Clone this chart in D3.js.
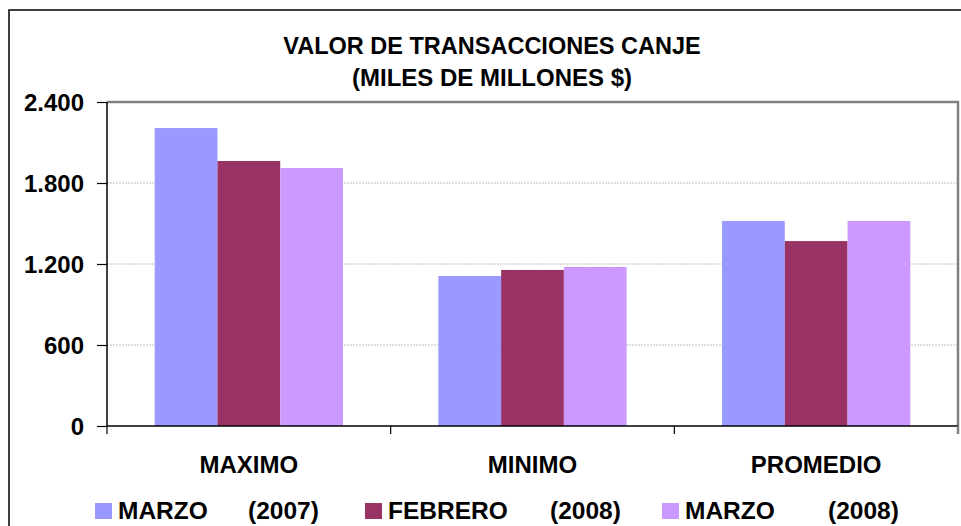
<!DOCTYPE html>
<html><head><meta charset="utf-8">
<script src="https://cdn.jsdelivr.net/npm/d3@7"></script>
<style>html,body{margin:0;padding:0;background:#fff;}svg{display:block;}text{font-family:"Liberation Sans",Arial,sans-serif;font-weight:bold;fill:#000;}</style>
</head><body>
<svg id="c" width="961" height="526"></svg>
<script>
const categories = ["MAXIMO", "MINIMO", "PROMEDIO"];
const seriesNames = ["MARZO", "FEBRERO", "MARZO"];
const seriesYears = ["(2007)", "(2008)", "(2008)"];
const marzo2007 = [2207, 1111, 1519];
const febrero2008 = [1963, 1156, 1370];
const marzo2008 = [1911, 1178, 1519];
const yTicks = [0, 600, 1200, 1800, 2400];
const titleLines = ["VALOR DE TRANSACCIONES CANJE", "(MILES DE MILLONES $)"];
const colors = ["#9999FF", "#993366", "#CC99FF"];

const seriesVals = [marzo2007, febrero2008, marzo2008];
const svg = d3.select("#c");
const L = 107, R = 958, T = 102, B = 426;

// outer frame
svg.append("rect").attr("x", 9).attr("y", 10).attr("width", 980).attr("height", 540)
  .attr("fill", "none").attr("stroke", "#000").attr("stroke-width", 1.5);

// title
svg.selectAll("text.title").data(titleLines).enter().append("text")
  .attr("class", "title").attr("x", 492).attr("y", (d, i) => 54 + i * 32)
  .attr("text-anchor", "middle").style("font-size", (d, i) => i === 0 ? "23.5px" : "24px").text(d => d);

const x0 = d3.scaleBand().domain(categories).range([L, R]).padding(0);
const x1 = d3.scaleBand().domain([0, 1, 2]).range([0, x0.bandwidth()]).paddingInner(0).paddingOuter(0.76);
const y = d3.scaleLinear().domain([0, 2400]).range([B, T]);

// gridlines
svg.append("g").selectAll("line").data(yTicks.filter(d => d > 0 && d < 2400)).enter().append("line")
  .attr("x1", L).attr("x2", R).attr("y1", d => y(d)).attr("y2", d => y(d))
  .attr("stroke", "#c0c0c0").attr("stroke-width", 1).attr("stroke-dasharray", "2,1");

// plot border top/right
svg.append("path").attr("d", `M${L},${T}H${R}V${B}`).attr("fill", "none")
  .attr("stroke", "#808080").attr("stroke-width", 2.5);

// bars
categories.forEach((c, ci) => {
  seriesVals.forEach((vals, si) => {
    svg.append("rect").attr("x", x0(c) + x1(si)).attr("width", x1.bandwidth())
      .attr("y", y(vals[ci])).attr("height", B - y(vals[ci])).attr("fill", colors[si]);
  });
});

// y axis
const yAxis = svg.append("g").attr("transform", `translate(${L},0)`)
  .call(d3.axisLeft(y).tickValues(yTicks).tickSize(10).tickPadding(13)
    .tickFormat(d => d3.format(",")(d).replace(/,/g, ".")));
yAxis.select(".domain").attr("stroke", "#000").attr("stroke-width", 1.5).attr("d", `M0,${T}V${B}`);
yAxis.selectAll(".tick line").attr("stroke", "#000").attr("stroke-width", 1.2);
yAxis.selectAll(".tick text").style("font-size", "24px").attr("font-family", null).attr("dy", "0.35em");

// x axis
const xAxis = svg.append("g").attr("transform", `translate(0,${B})`)
  .call(d3.axisBottom(x0).tickSize(0).tickPadding(30));
xAxis.select(".domain").attr("stroke", "#000").attr("stroke-width", 1.5).attr("d", `M${L},0H${R}`);
xAxis.selectAll(".tick text").style("font-size", "24px").attr("font-family", null).attr("dy", "0.71em");
// category boundary ticks
const bounds = categories.map(c => x0(c)).concat([R]);
svg.append("g").selectAll("line").data(bounds).enter().append("line")
  .attr("x1", d => d).attr("x2", d => d).attr("y1", B).attr("y2", B + 8)
  .attr("stroke", d => d === R ? "#808080" : "#000").attr("stroke-width", d => d === R ? 2.5 : 1.2);

// legend
const legX = [95, 365, 662];
const yearX = [248, 550, 828];
const lg = svg.append("g");
seriesNames.forEach((n, i) => {
  lg.append("rect").attr("x", legX[i]).attr("y", 503).attr("width", 17).attr("height", 16).attr("fill", colors[i]);
  const t = lg.append("text").attr("y", 519).style("font-size", "24.5px");
  t.append("tspan").attr("x", legX[i] + 23).text(n);
  t.append("tspan").attr("x", yearX[i]).text(seriesYears[i]);
});
</script>
</body></html>
